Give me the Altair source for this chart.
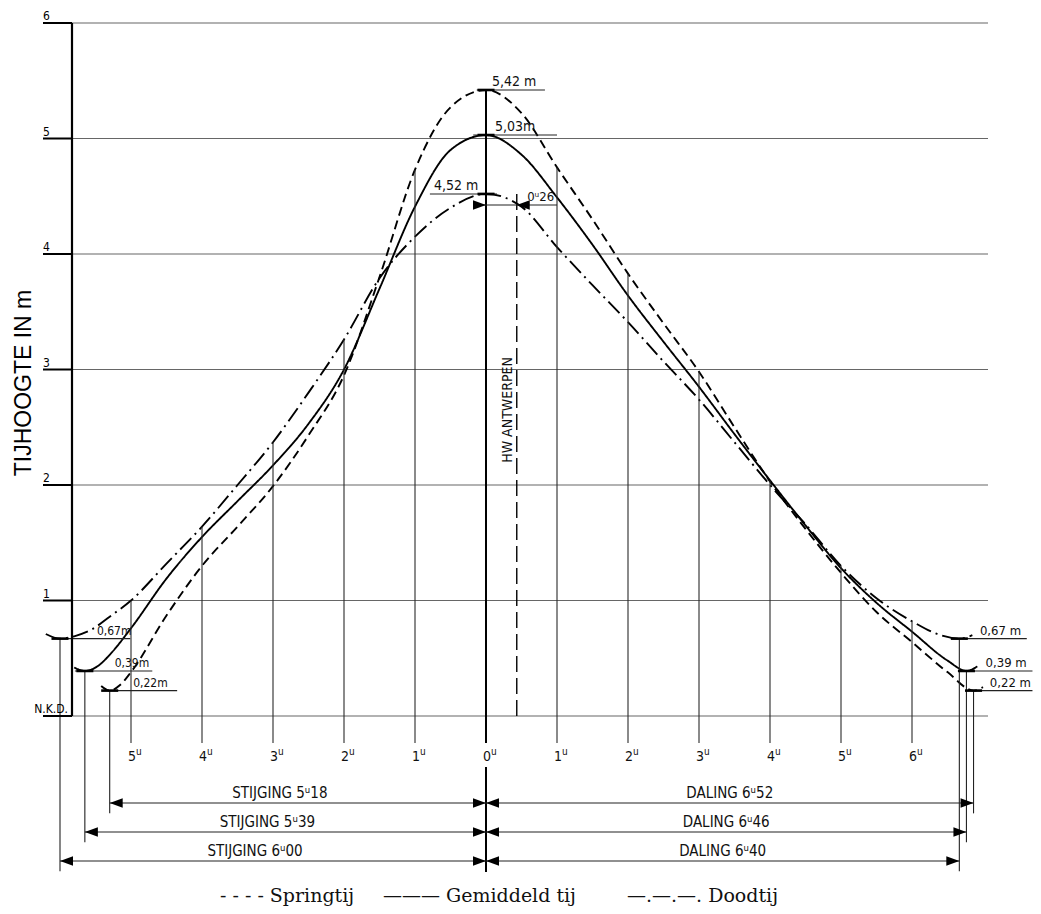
import altair as alt
import numpy as np
import pandas as pd

# ---------------- values ----------------
tides = ["Springtij", "Gemiddeld tij", "Doodtij"]
high_water = [5.42, 5.03, 4.52]           # m above N.K.D.
low_water = [0.22, 0.39, 0.67]
rise_hours = [5, 5, 6]
rise_minutes = [18, 39, 0]
fall_hours = [6, 6, 6]
fall_minutes = [52, 46, 40]
hw_antwerpen_minutes = 26

spring_h = [-5.42, -5.30, -5.15, -5.0, -4.5, -4.0, -3.5, -3.0, -2.5, -2.0, -1.5, -1.0, -0.5, 0.0,
            0.5, 1.0, 1.5, 2.0, 2.5, 3.0, 3.5, 4.0, 4.5, 5.0, 5.5, 6.0, 6.5, 6.87, 7.0]
spring_m = [0.26, 0.22, 0.27, 0.38, 0.87, 1.30, 1.64, 1.99, 2.43, 2.95, 3.80, 4.73, 5.27, 5.42,
            5.22, 4.75, 4.30, 3.83, 3.40, 2.98, 2.50, 2.03, 1.62, 1.24, 0.90, 0.64, 0.38, 0.22, 0.25]

mean_h = [-5.80, -5.65, -5.45, -5.30, -5.0, -4.5, -4.0, -3.5, -3.0, -2.5, -2.0, -1.5, -1.0, -0.5, 0.0,
          0.5, 1.0, 1.5, 2.0, 2.5, 3.0, 3.5, 4.0, 4.5, 5.0, 5.5, 6.0, 6.5, 6.77, 6.92]
mean_m = [0.42, 0.39, 0.44, 0.53, 0.76, 1.19, 1.55, 1.86, 2.17, 2.53, 3.00, 3.70, 4.41, 4.90, 5.03,
          4.86, 4.49, 4.08, 3.64, 3.24, 2.85, 2.44, 2.04, 1.65, 1.28, 0.98, 0.73, 0.48, 0.39, 0.43]

neap_h = [-6.20, -6.0, -5.8, -5.55, -5.3, -5.0, -4.5, -4.0, -3.5, -3.0, -2.5, -2.0, -1.5, -1.0, -0.5, 0.0,
          0.5, 1.0, 1.5, 2.0, 2.5, 3.0, 3.5, 4.0, 4.5, 5.0, 5.5, 6.0, 6.4, 6.67, 6.85]
neap_m = [0.71, 0.67, 0.69, 0.75, 0.86, 1.00, 1.32, 1.64, 2.00, 2.37, 2.80, 3.26, 3.79, 4.15, 4.40, 4.52,
          4.41, 4.06, 3.73, 3.41, 3.07, 2.74, 2.37, 2.00, 1.66, 1.30, 1.02, 0.82, 0.70, 0.67, 0.70]

hour_ticks = [-5, -4, -3, -2, -1, 0, 1, 2, 3, 4, 5, 6]
height_ticks = [0, 1, 2, 3, 4, 5, 6]
legend_samples = ["- - - -", "———", "—.—.—."]

# ---------------- layout (pixels / offsets) ----------------
W, H = 916, 693
X_MIN, X_MAX = -414 / 71, 502 / 71
PAD = {"left": 64, "top": 15, "right": 45, "bottom": 196}
ROW_LEVEL = [-0.753, -1.004, -1.255]
ROW_TEXT_UP = 0.085
ROW_EXT = 0.09
HOUR_RULE_BOTTOM = -0.234
HOUR_LABEL_Y = -0.355
ZERO_LOWER = (-0.442, -1.351)
DIN = "DejaVu Sans Condensed, DejaVu Sans"
SERIF = "DejaVu Serif"
ARROW_R = "M0,0L-1,-0.36L-1,0.36Z"
ARROW_L = "M0,0L1,-0.36L1,0.36Z"
INK = "#111111"

xscale = alt.Scale(domain=[X_MIN, X_MAX], nice=False, zero=False)
yscale = alt.Scale(domain=[0, 6], nice=False, zero=False)


def xq(f):
    return alt.X(f"{f}:Q", scale=xscale, axis=None)


def yq(f):
    return alt.Y(f"{f}:Q", scale=yscale, axis=None)


curve_list = [(spring_h, spring_m), (mean_h, mean_m), (neap_h, neap_m)]
curves = pd.concat([pd.DataFrame({"tide": t, "h": hh, "m": mm})
                    for t, (hh, mm) in zip(tides, curve_list)], ignore_index=True)

# ---------------- height axis, drawn by hand ----------------
grid_df = pd.DataFrame({"m": height_ticks, "a": X_MIN, "b": X_MAX,
                        "lab": ["" if v == 0 else str(v) for v in height_ticks]})
grid = alt.Chart(grid_df).mark_rule(color="#4a4a4a", strokeWidth=0.85).encode(
    x=xq("a"), x2=alt.X2("b"), y=yq("m"))
ticks = alt.Chart(grid_df).mark_rule(color="black", strokeWidth=2).encode(
    x=alt.value(-29), x2=alt.value(0), y=yq("m"))
domain = alt.Chart(pd.DataFrame({"a": [0.0], "b": [6.0]})).mark_rule(color="black", strokeWidth=2.2).encode(
    x=alt.value(0), y=yq("a"), y2=alt.Y2("b"))
ylabels = alt.Chart(grid_df[grid_df.m > 0]).mark_text(
    font=DIN, fontSize=12, color="black", align="left", baseline="alphabetic", dy=-3).encode(
    x=alt.value(-29), y=yq("m"), text="lab:N")
nkd = alt.Chart(pd.DataFrame({"m": [0.0], "t": ["N.K.D."]})).mark_text(
    font=DIN, fontSize=12, color="black", align="right", baseline="alphabetic", dy=-3).encode(
    x=alt.value(-4), y=yq("m"), text="t:N")
ytitle = alt.Chart(pd.DataFrame({"t": ["TIJHOOGTE IN m"]})).mark_text(
    font="Liberation Sans", fontSize=23, color="black", angle=270, align="center", baseline="middle").encode(
    x=alt.value(-48), y=alt.value(360), text="t:N")

curve_layer = alt.Chart(curves).mark_line(color="black", strokeWidth=1.9, interpolate="monotone").encode(
    x=xq("h"), y=yq("m"),
    strokeDash=alt.StrokeDash("tide:N", scale=alt.Scale(domain=tides, range=[[9, 5], [1, 0], [16, 5, 2, 5]]),
                              legend=None),
)

# hour verticals
tops = [max(float(np.interp(h, hh, mm)) for hh, mm in curve_list) for h in hour_ticks]
hours = pd.DataFrame({"h": hour_ticks, "top": tops, "bottom": HOUR_RULE_BOTTOM,
                      "num": [str(abs(h)) for h in hour_ticks], "sup": "u", "ly": HOUR_LABEL_Y})
hour_rules = alt.Chart(hours[hours.h != 0]).mark_rule(color="#2a2a2a", strokeWidth=1.1).encode(
    x=xq("h"), y=yq("top"), y2=alt.Y2("bottom"))
zero_rule = alt.Chart(hours[hours.h == 0]).mark_rule(color="black", strokeWidth=2).encode(
    x=xq("h"), y=yq("top"), y2=alt.Y2("bottom"))
zero_lower = alt.Chart(pd.DataFrame({"h": [0], "a": [ZERO_LOWER[0]], "b": [ZERO_LOWER[1]]})).mark_rule(
    color="black", strokeWidth=2).encode(x=xq("h"), y=yq("a"), y2=alt.Y2("b"))
hour_num = alt.Chart(hours).mark_text(font=DIN, fontSize=14, color=INK, dx=1, baseline="middle").encode(
    x=xq("h"), y=yq("ly"), text="num:N")
hour_sup = alt.Chart(hours).mark_text(font=DIN, fontSize=10, color=INK, dx=5, dy=-5, align="left",
                                      baseline="middle").encode(x=xq("h"), y=yq("ly"), text="sup:N")

# durations (dimension rows)
rows = []
for i, t in enumerate(tides):
    left = -(rise_hours[i] + rise_minutes[i] / 60)
    right = fall_hours[i] + fall_minutes[i] / 60
    lv = ROW_LEVEL[i]
    rows.append(dict(tide=t, left=left, right=right, zero=0.0, level=lv, ext=lv - ROW_EXT,
                     ty=lv + ROW_TEXT_UP, low=low_water[i], lmid=left / 2, rmid=right / 2,
                     lt=f"STIJGING  {rise_hours[i]}ᵘ{rise_minutes[i]:02d}",
                     rt=f"DALING  {fall_hours[i]}ᵘ{fall_minutes[i]:02d}"))
dims = pd.DataFrame(rows)
dim_base = alt.Chart(dims)
dim_left = dim_base.mark_rule(color="#222", strokeWidth=1.1).encode(x=xq("left"), x2=alt.X2("zero"), y=yq("level"))
dim_right = dim_base.mark_rule(color="#222", strokeWidth=1.1).encode(x=xq("zero"), x2=alt.X2("right"), y=yq("level"))
ext_left = dim_base.mark_rule(color="#222", strokeWidth=1.1).encode(x=xq("left"), y=yq("low"), y2=alt.Y2("ext"))
ext_right = dim_base.mark_rule(color="#222", strokeWidth=1.1).encode(x=xq("right"), y=yq("low"), y2=alt.Y2("ext"))
txt_left = dim_base.mark_text(font=DIN, fontSize=15, color=INK, dx=-18, baseline="middle").encode(
    x=xq("lmid"), y=yq("ty"), text="lt:N")
txt_right = dim_base.mark_text(font=DIN, fontSize=15, color=INK, baseline="middle").encode(
    x=xq("rmid"), y=yq("ty"), text="rt:N")

# HW Antwerpen
h_hw = hw_antwerpen_minutes / 60
hw_y = float(np.interp(h_hw, neap_h, neap_m))
hw = pd.DataFrame({"h": [h_hw], "top": [high_water[2]], "bot": [0.0], "ty": [2.65], "t": ["HW  ANTWERPEN"],
                   "y": [hw_y], "a": [-0.127], "b": [1.0], "lh": [0.58], "lab": [f"0ᵘ{hw_antwerpen_minutes}"]})
hw_rule = alt.Chart(hw).mark_rule(color="black", strokeWidth=1.4, strokeDash=[16, 6]).encode(
    x=xq("h"), y=yq("top"), y2=alt.Y2("bot"))
hw_text = alt.Chart(hw).mark_text(font=DIN, fontSize=14, color=INK, angle=270, align="center",
                                  baseline="bottom", dy=-2).encode(x=xq("h"), y=yq("ty"), text="t:N")
hw_dim = alt.Chart(hw).mark_rule(color="#222", strokeWidth=1.1).encode(x=xq("a"), x2=alt.X2("b"), y=yq("y"))
hw_lab = alt.Chart(hw).mark_text(font=DIN, fontSize=13, color=INK, align="left", baseline="bottom", dy=-1).encode(
    x=xq("lh"), y=yq("y"), text="lab:N")

# arrowheads
arr_r = pd.DataFrame({"h": [0.0] * 3 + list(dims.right) + [0.0], "y": list(dims.level) * 2 + [hw_y]})
arr_l = pd.DataFrame({"h": list(dims.left) + [0.0] * 3 + [h_hw], "y": list(dims.level) * 2 + [hw_y]})
arrows_r = alt.Chart(arr_r).mark_point(shape=ARROW_R, filled=True, color="black", size=676, opacity=1,
                                       strokeWidth=0).encode(x=xq("h"), y=yq("y"))
arrows_l = alt.Chart(arr_l).mark_point(shape=ARROW_L, filled=True, color="black", size=676, opacity=1,
                                       strokeWidth=0).encode(x=xq("h"), y=yq("y"))

# extreme labels with underlines
high_layout = {"Springtij": (-0.13, 0.83, 0.085, "left", " m"),
               "Gemiddeld tij": (-0.18, 1.0, 0.127, "left", "m"),
               "Doodtij": (-0.79, 0.155, -0.11, "right", " m")}
lowl_layout = {"Springtij": (-0.11, 0.95, 0.33), "Gemiddeld tij": (-0.14, 0.95, 0.42), "Doodtij": (0.0, 0.99, 0.52)}
lowr_layout = {"Springtij": (-0.12, 0.83, 0.23), "Gemiddeld tij": (-0.09, 0.93, 0.27), "Doodtij": (-0.11, 0.95, 0.29)}


def fmt(v):
    return f"{v:.2f}".replace(".", ",")


ext = []
for i, t in enumerate(tides):
    a, b, o, al, suf = high_layout[t]
    ext.append(dict(h=0.0, m=high_water[i], ua=a, ub=b, tx=o, al=al, fs=14, lab=fmt(high_water[i]) + suf))
    left = -(rise_hours[i] + rise_minutes[i] / 60)
    a, b, o = lowl_layout[t]
    ext.append(dict(h=left, m=low_water[i], ua=left + a, ub=left + b, tx=left + o, al="left", fs=12,
                    lab=fmt(low_water[i]) + "m"))
    right = fall_hours[i] + fall_minutes[i] / 60
    a, b, o = lowr_layout[t]
    ext.append(dict(h=right, m=low_water[i], ua=right + a, ub=right + b, tx=right + o, al="left", fs=13,
                    lab=fmt(low_water[i]) + " m"))
for r in ext:
    r["ba"] = r["h"] - 0.12
    r["bb"] = r["h"] + 0.12
ext_df = pd.DataFrame(ext)[["h", "m", "ua", "ub", "ba", "bb"]]
underlines = alt.Chart(ext_df).mark_rule(color="#222", strokeWidth=1.1).encode(
    x=xq("ua"), x2=alt.X2("ub"), y=yq("m"))
bars = alt.Chart(ext_df).mark_rule(color="black", strokeWidth=2.6).encode(
    x=xq("ba"), x2=alt.X2("bb"), y=yq("m"))
ext_text = []
for al, fs in [("left", 14), ("right", 14), ("left", 12), ("left", 13)]:
    recs = [dict(tx=r["tx"], m=r["m"], lab=r["lab"]) for r in ext if r["al"] == al and r["fs"] == fs]
    if recs:
        ext_text.append(alt.Chart(pd.DataFrame(recs)).mark_text(
            font=DIN, fontSize=fs, color=INK, align=al, baseline="bottom", dy=-1).encode(
            x=xq("tx"), y=yq("m"), text="lab:N"))

# legend (typeset like the original)
legend = pd.DataFrame({"t": [f"{s} {t}" for s, t in zip(legend_samples, tides)],
                       "px": [148, 311, 555], "py": [873] * 3})
legend_text = alt.Chart(legend).mark_text(font=SERIF, fontSize=19, color=INK, align="left",
                                          baseline="middle").encode(
    x=alt.X("px:Q", scale=None), y=alt.Y("py:Q", scale=None), text="t:N")

chart = alt.layer(
    grid, curve_layer, hour_rules, zero_rule, zero_lower, hour_num, hour_sup,
    dim_left, dim_right, ext_left, ext_right, txt_left, txt_right,
    hw_rule, hw_text, hw_dim, hw_lab, arrows_r, arrows_l,
    underlines, bars, *ext_text, ticks, domain, ylabels, nkd, ytitle, legend_text,
).properties(width=W, height=H, padding=PAD, autosize=alt.AutoSizeParams(type="none"),
             background="white").configure_view(stroke=None)

chart.save("out.html", embed_options={"renderer": "svg", "actions": False})
